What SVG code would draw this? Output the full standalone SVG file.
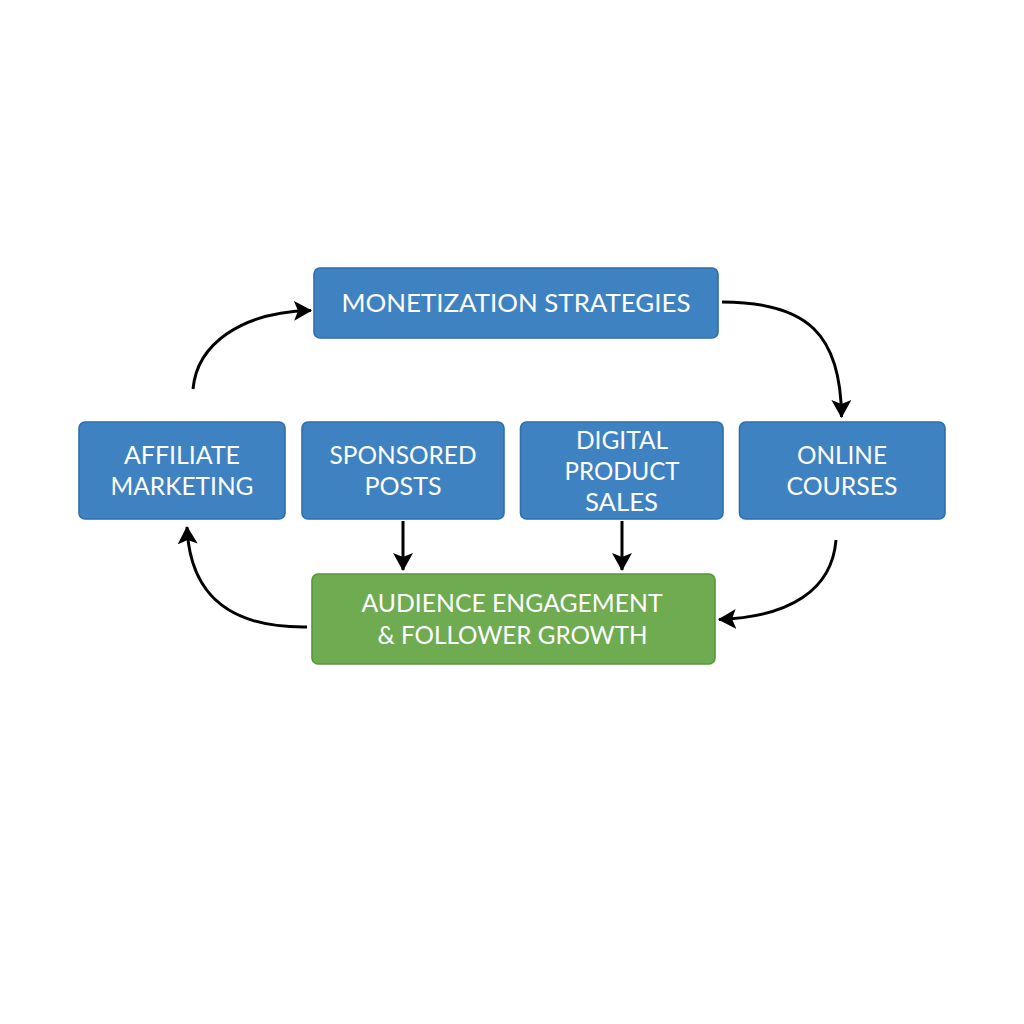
<svg xmlns="http://www.w3.org/2000/svg" width="1024" height="1024" viewBox="0 0 1024 1024">
<style>
.b{fill:#3f82c1;stroke:#2f6eaa;stroke-width:1.6}
.g{fill:#6fab50;stroke:#58953c;stroke-width:1.6}
text{font-family:"Lato","Liberation Sans",sans-serif;font-size:25.5px;fill:#fff;text-anchor:middle}
.c path{fill:none;stroke:#000;stroke-width:3;marker-end:url(#a)}
</style>
<defs><marker id="a" markerUnits="userSpaceOnUse" markerWidth="22" markerHeight="22" refX="17" refY="10" orient="auto"><path d="M0 0L18 10L0 20L4 10Z" style="fill:#000;stroke:none;marker-end:none"/></marker></defs>
<rect width="1024" height="1024" fill="#fff"/>
<g id="monetization"><rect class="b" x="314" y="268" width="404" height="70" rx="6"/><text x="516" y="312" textLength="349" lengthAdjust="spacingAndGlyphs">MONETIZATION STRATEGIES</text></g>
<g id="affiliate"><rect class="b" x="79" y="422" width="206" height="97" rx="6"/><text x="182" y="464" textLength="116" lengthAdjust="spacingAndGlyphs">AFFILIATE</text><text x="182" y="495" textLength="143" lengthAdjust="spacingAndGlyphs">MARKETING</text></g>
<g id="sponsored"><rect class="b" x="302" y="422" width="202" height="97" rx="6"/><text x="403" y="464" textLength="147" lengthAdjust="spacingAndGlyphs">SPONSORED</text><text x="403" y="495" textLength="77" lengthAdjust="spacingAndGlyphs">POSTS</text></g>
<g id="digital"><rect class="b" x="520.500" y="422" width="202.500" height="97" rx="6"/><text x="622" y="449" textLength="92" lengthAdjust="spacingAndGlyphs">DIGITAL</text><text x="622" y="480" textLength="115" lengthAdjust="spacingAndGlyphs">PRODUCT</text><text x="621.500" y="511" textLength="73" lengthAdjust="spacingAndGlyphs">SALES</text></g>
<g id="online"><rect class="b" x="739.500" y="422" width="205.500" height="97" rx="6"/><text x="842" y="464" textLength="90" lengthAdjust="spacingAndGlyphs">ONLINE</text><text x="842" y="495" textLength="111" lengthAdjust="spacingAndGlyphs">COURSES</text></g>
<g id="audience"><rect class="g" x="312" y="574" width="403" height="90" rx="6"/><text x="512" y="612" textLength="301" lengthAdjust="spacingAndGlyphs">AUDIENCE ENGAGEMENT</text><text x="512.500" y="644" textLength="270" lengthAdjust="spacingAndGlyphs">&amp; FOLLOWER GROWTH</text></g>
<g id="connectors" class="c">
<path d="M193 389C197 345 240 312 311 310.500"/>
<path d="M722 302C808 302 841 335 841.500 417"/>
<path d="M403 521V570"/>
<path d="M622 521V570"/>
<path d="M836 540C832 590 790 617 719 619.500"/>
<path d="M307 627C235 628 190 600 187 527"/>
</g>
</svg>
